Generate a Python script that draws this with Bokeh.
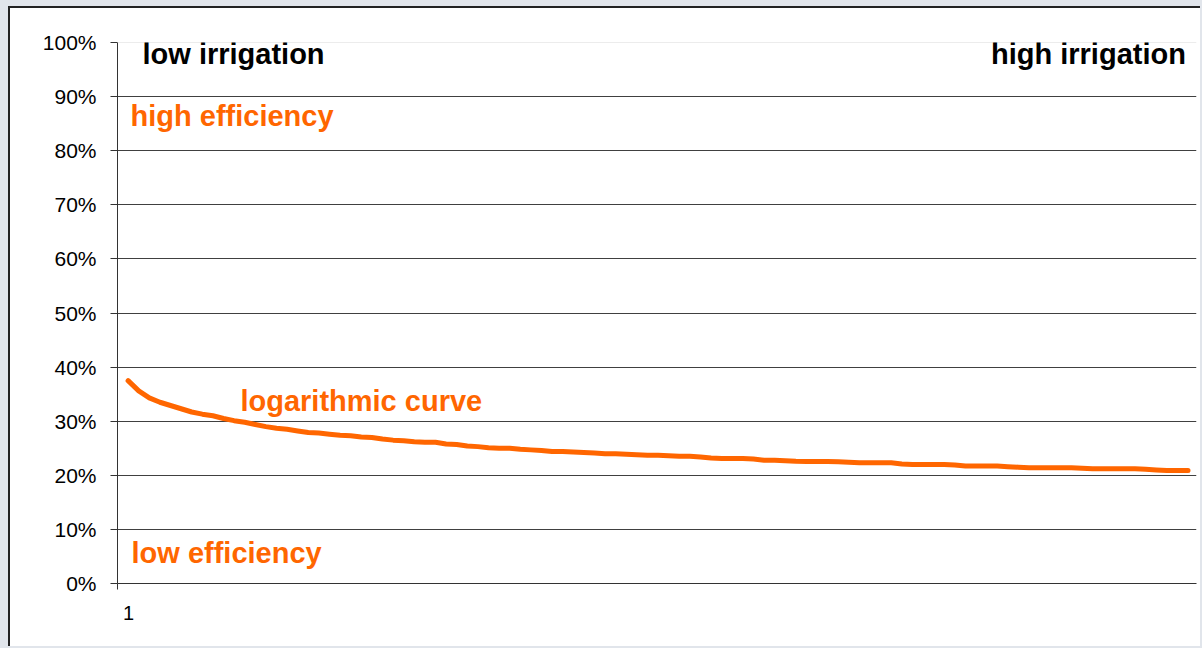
from bokeh.plotting import figure
from bokeh.models import Range1d, FixedTicker, PrintfTickFormatter, Label, Span
from bokeh.embed import file_html
from bokeh.resources import INLINE

# data: efficiency (%) for irrigation steps 1..101
x_vals = list(range(1, 102))
efficiency = [
    37.5, 35.6, 34.3, 33.5, 32.9, 32.3, 31.7, 31.3, 31.0, 30.5,
    30.1, 29.8, 29.4, 29.0, 28.7, 28.5, 28.2, 27.9, 27.8, 27.6,
    27.4, 27.3, 27.1, 27.0, 26.7, 26.5, 26.4, 26.2, 26.1, 26.1,
    25.8, 25.7, 25.4, 25.3, 25.1, 25.0, 25.0, 24.8, 24.7, 24.6,
    24.4, 24.4, 24.3, 24.2, 24.1, 24.0, 24.0, 23.9, 23.8, 23.7,
    23.7, 23.6, 23.5, 23.5, 23.4, 23.2, 23.1, 23.1, 23.1, 23.0,
    22.8, 22.8, 22.7, 22.6, 22.55, 22.55, 22.55, 22.5, 22.4, 22.3,
    22.3, 22.3, 22.3, 22.1, 22.0, 22.0, 22.0, 22.0, 21.9, 21.7,
    21.7, 21.7, 21.7, 21.6, 21.5, 21.4, 21.4, 21.4, 21.4, 21.4,
    21.3, 21.2, 21.2, 21.2, 21.2, 21.2, 21.1, 21.0, 20.9, 20.9,
    20.9,
]
y_ticks = [0, 10, 20, 30, 40, 50, 60, 70, 80, 90, 100]
grid_ticks = [10, 20, 30, 40, 50, 60, 70, 80, 90]

ORANGE = "#FF6600"
FONT = "Liberation Sans"

p = figure(width=1192, height=640, output_backend="svg", toolbar_location=None,
           x_range=Range1d(0, 101.8), y_range=Range1d(0, 100),
           min_border_left=107, min_border_top=34, min_border_bottom=65,
           min_border_right=6)
p.styles = {"margin": "6px 0 0 8px",
            "border-left": "2px solid #222222", "border-top": "2px solid #222222",
            "box-shadow": "0 0 0 10px #e1e5eb"}
p.outline_line_color = None
p.background_fill_color = "white"
p.border_fill_color = "white"

# grid
p.xgrid.visible = False
p.ygrid.ticker = FixedTicker(ticks=grid_ticks)
p.ygrid.grid_line_color = "#404040"
p.ygrid.grid_line_width = 1
p.add_layout(Span(location=100, dimension="width", line_color="#d9d9d9", line_width=1))

# y axis
p.yaxis.ticker = FixedTicker(ticks=y_ticks)
p.yaxis.formatter = PrintfTickFormatter(format="%d%%")
p.yaxis.axis_line_color = "#333333"
p.yaxis.major_tick_line_color = "#333333"
p.yaxis.major_tick_out = 7
p.yaxis.major_tick_in = 0
p.yaxis.minor_tick_line_color = None
p.yaxis.major_label_text_font = FONT
p.yaxis.major_label_text_font_size = "21px"
p.yaxis.major_label_text_color = "black"
p.yaxis.major_label_standoff = 14

# x axis: tick at the axis start, label "1" placed over the first point
p.xaxis.ticker = FixedTicker(ticks=[0])
p.xaxis.major_label_overrides = {0: "\u00a0\u00a0\u00a0\u00a0" + str(x_vals[0])}
p.xaxis.axis_line_color = "#333333"
p.xaxis.major_tick_line_color = "#333333"
p.xaxis.major_tick_out = 6
p.xaxis.major_tick_in = 0
p.xaxis.minor_tick_line_color = None
p.xaxis.major_label_text_font = FONT
p.xaxis.major_label_text_font_size = "20px"
p.xaxis.major_label_text_color = "black"
p.xaxis.major_label_standoff = 12

# curve
p.line(x_vals, efficiency, line_color=ORANGE, line_width=5, line_cap="round", line_join="round")

def lab(x, y, t, color, align="left"):
    p.add_layout(Label(x=x, y=y, text=t, text_align=align, text_baseline="alphabetic",
                       text_font=FONT, text_font_size="29px", text_font_style="bold",
                       text_color=color))

lab(2.36, 97.8, "low irrigation", "black")
lab(100.8, 97.8, "high irrigation", "black", align="right")
lab(1.23, 86.4, "high efficiency", ORANGE)
lab(11.6, 33.7, "logarithmic curve", ORANGE)
lab(1.32, 5.6, "low efficiency", ORANGE)

open("out.html", "w").write(file_html(p, INLINE))
